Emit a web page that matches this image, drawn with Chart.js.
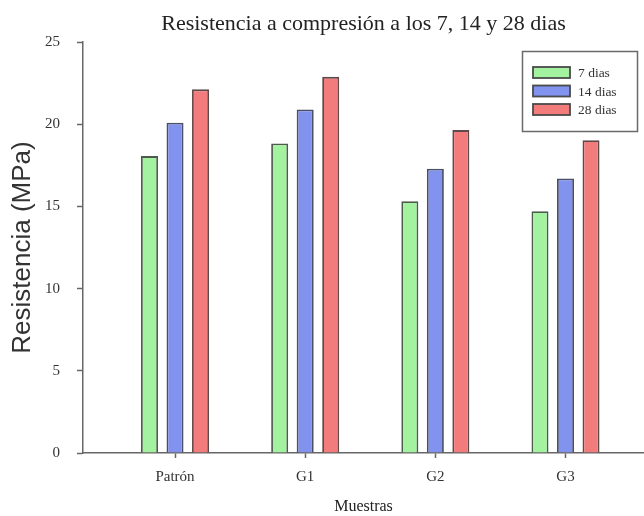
<!DOCTYPE html>
<html>
<head>
<meta charset="utf-8">
<script src="https://cdn.jsdelivr.net/npm/chart.js@4.4.1/dist/chart.umd.min.js"></script>
<style>
html,body{margin:0;padding:0;background:#fff;}
#wrap{width:644px;height:516px;}
</style>
</head>
<body>
<div id="wrap"><canvas id="c" width="644" height="516"></canvas></div>
<script>
const categories = ['Patrón', 'G1', 'G2', 'G3'];
const seriesNames = ['7 dias', '14 dias', '28 dias'];
const dias7 = [18.06, 18.83, 15.32, 14.71];
const dias14 = [20.09, 20.90, 17.29, 16.70];
const dias28 = [22.12, 22.88, 19.64, 19.03];
const yTicks = [0, 5, 10, 15, 20, 25];

const fills = ['#a3f2a0', '#8192ef', '#f27b7b'];
const borders = ['#4f5a4f', '#4a4f66', '#5e4a4a'];

function pts(arr){ return categories.map((c,i)=>({x:i+1, y:arr[i]})); }

const legendBox = {
  id: 'legendBox',
  afterDraw(chart){
    const ctx = chart.ctx, a = chart.chartArea;
    const left = a.right - 122, top = a.top + 9, w = 115, h = 80;
    ctx.save();
    ctx.strokeStyle = '#6a6a6a'; ctx.lineWidth = 1.5;
    ctx.strokeRect(left + 0.5, top + 0.5, w, h);
    ctx.font = '13.5px "Liberation Serif", "Times New Roman", serif';
    ctx.textBaseline = 'middle'; ctx.textAlign = 'left';
    chart.data.datasets.forEach((ds, i) => {
      const cy = top + 21.5 + i * 18.5;
      ctx.fillStyle = ds.backgroundColor;
      ctx.fillRect(left + 11, cy - 5.5, 37, 11);
      ctx.strokeStyle = '#4a4a4a'; ctx.lineWidth = 1.8;
      ctx.strokeRect(left + 11, cy - 5.5, 37, 11);
      ctx.fillStyle = '#333';
      ctx.fillText(ds.label, left + 56, cy + 1);
    });
    ctx.restore();
  }
};

const titleCenter = {
  id: 'titleCenter',
  afterLayout(chart){
    const t = chart.titleBlock;
    if (t) { t.left = chart.chartArea.left; t.right = chart.chartArea.right; t.width = t.right - t.left; }
  }
};

new Chart(document.getElementById('c'), {
  type: 'bar',
  data: {
    datasets: [
      {label: seriesNames[0], data: pts(dias7), backgroundColor: fills[0], borderColor: borders[0], borderWidth: 1.8},
      {label: seriesNames[1], data: pts(dias14), backgroundColor: fills[1], borderColor: borders[1], borderWidth: 1.8},
      {label: seriesNames[2], data: pts(dias28), backgroundColor: fills[2], borderColor: borders[2], borderWidth: 1.8}
    ]
  },
  options: {
    responsive: false,
    devicePixelRatio: 1,
    animation: false,
    categoryPercentage: 0.588,
    barPercentage: 0.667,
    layout: {padding: 0},
    plugins: {
      legend: {display: false},
      tooltip: {enabled: false},
      title: {
        display: true,
        text: 'Resistencia a compresión a los 7, 14 y 28 dias',
        color: '#222',
        font: {family: '"Liberation Serif", "Times New Roman", serif', size: 22, weight: 'normal'},
        padding: {top: 11, bottom: 4.6}
      }
    },
    scales: {
      x: {
        type: 'linear',
        min: 0.293,
        max: 4.603,
        offset: false,
        afterBuildTicks: (s) => { s.ticks = categories.map((c,i)=>({value: i+1})); },
        afterFit: (s) => { s.height = 63; },
        border: {display: true, color: '#666', width: 1.5},
        grid: {display: true, offset: false, drawOnChartArea: false, drawTicks: true, tickLength: 5, tickColor: '#666', tickWidth: 1.5},
        ticks: {
          autoSkip: false, maxRotation: 0, padding: 10, color: '#333',
          font: {family: '"Liberation Serif", "Times New Roman", serif', size: 15},
          callback: (v) => categories[Math.round(v) - 1]
        },
        title: {
          display: true, text: 'Muestras', color: '#222',
          font: {family: '"Liberation Serif", "Times New Roman", serif', size: 16},
          padding: {top: 0, bottom: 0}
        }
      },
      y: {
        min: 0, max: 25,
        afterBuildTicks: (s) => { s.ticks = yTicks.map(v => ({value: v})); },
        afterFit: (s) => { s.width = 83; },
        border: {display: true, color: '#666', width: 1.5},
        grid: {display: true, drawOnChartArea: false, drawTicks: true, tickLength: 6, tickColor: '#666', tickWidth: 1.5},
        ticks: {
          padding: 17, color: '#333',
          font: {family: '"Liberation Serif", "Times New Roman", serif', size: 15}
        },
        title: {
          display: true, text: 'Resistencia (MPa)', color: '#333',
          font: {family: '"Liberation Sans", Arial, sans-serif', size: 26},
          padding: {top: 7, bottom: 0}
        }
      }
    }
  },
  plugins: [titleCenter, legendBox]
});
</script>
</body>
</html>
